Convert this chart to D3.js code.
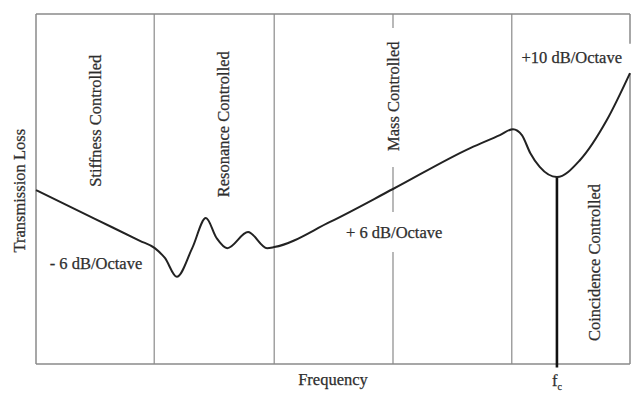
<!DOCTYPE html>
<html>
<head>
<meta charset="utf-8">
<script src="https://cdn.jsdelivr.net/npm/d3@7"></script>
<style>
  body { margin: 0; background: #fff; }
  text { font-family: "Liberation Serif", "Times New Roman", serif; fill: #2e2e2e; stroke: #2e2e2e; stroke-width: 0.25px; }
</style>
</head>
<body>
<div id="chart"></div>
<script>
// frequency (arbitrary 0-100 units) and transmission loss (0-100 units)
const freq = [0, 10, 17.5, 20, 21.7, 23.7, 26.3, 28.6, 30.4, 32.2, 35.7, 38.9, 40.1, 49.5, 60.1, 73.1, 78.1, 80.3, 81.8, 83.2, 84.8, 87.7, 91.6, 96.1, 100];
const loss = [49.7, 41.4, 35.2, 33.1, 30.3, 24.9, 33.1, 41.7, 36.0, 33.1, 37.7, 33.1, 33.4, 40.6, 50.0, 61.7, 65.4, 67.1, 65.4, 60.3, 56.3, 53.4, 58.3, 69.7, 83.1];

const dividers = [19.9, 40.1, 80.1];
const massDivider = 60.1;
const fc = 87.7;

const regionNames = ["Stiffness Controlled", "Resonance Controlled", "Mass Controlled", "Coincidence Controlled"];
const slopeLabels = ["- 6 dB/Octave", "+ 6 dB/Octave", "+10 dB/Octave"];

const width = 640, height = 395;
const svg = d3.select("#chart")
    .append("svg")
    .attr("width", width)
    .attr("height", height);

const x = d3.scaleLinear().domain([0, 100]).range([36, 630]);
const y = d3.scaleLinear().domain([0, 100]).range([364, 14]);

const grid = "#8a8a8a";

// frame: top, left, bottom, right (right side broken near the curve end)
svg.append("line").attr("x1", x(0)).attr("x2", x(100)).attr("y1", y(100)).attr("y2", y(100))
    .attr("stroke", grid).attr("stroke-width", 1.5);
svg.append("line").attr("x1", x(0)).attr("x2", x(0)).attr("y1", y(100)).attr("y2", y(0))
    .attr("stroke", grid).attr("stroke-width", 1.5);
svg.append("line").attr("x1", x(0)).attr("x2", x(100)).attr("y1", y(0)).attr("y2", y(0))
    .attr("stroke", grid).attr("stroke-width", 1.5);
svg.append("line").attr("x1", x(100)).attr("x2", x(100)).attr("y1", y(100)).attr("y2", y(91.5))
    .attr("stroke", grid).attr("stroke-width", 1.5);
svg.append("line").attr("x1", x(100)).attr("x2", x(100)).attr("y1", y(loss[loss.length - 1])).attr("y2", y(0))
    .attr("stroke", grid).attr("stroke-width", 1.5);

// region dividers
svg.selectAll(".divider")
    .data(dividers)
    .enter().append("line")
    .attr("x1", d => x(d)).attr("x2", d => x(d))
    .attr("y1", y(100)).attr("y2", y(0))
    .attr("stroke", grid).attr("stroke-width", 1.2);

// mass controlled divider is broken by its labels
const massSegments = [[100, 96], [56.3, 43.4], [32, 0]];
svg.selectAll(".mass")
    .data(massSegments)
    .enter().append("line")
    .attr("x1", x(massDivider)).attr("x2", x(massDivider))
    .attr("y1", d => y(d[0])).attr("y2", d => y(d[1]))
    .attr("stroke", grid).attr("stroke-width", 1.2);

// critical frequency marker
svg.append("line")
    .attr("x1", x(fc)).attr("x2", x(fc))
    .attr("y1", y(loss[freq.indexOf(fc)])).attr("y2", y(-1))
    .attr("stroke", "#111").attr("stroke-width", 2.6);

const line = d3.line()
    .x((d, i) => x(freq[i]))
    .y(d => y(d))
    .curve(d3.curveMonotoneX);

svg.append("path")
    .datum(loss)
    .attr("fill", "none")
    .attr("stroke", "#222")
    .attr("stroke-width", 2)
    .attr("d", line);

// rotated region labels
const regionPos = [[10, 69.5], [31.5, 68.5], [60.1, 76.5], [94, 29]];
svg.selectAll(".region")
    .data(regionNames)
    .enter().append("text")
    .attr("transform", (d, i) => `translate(${x(regionPos[i][0]) + 6},${y(regionPos[i][1])}) rotate(-90)`)
    .attr("text-anchor", "middle")
    .attr("font-size", "16.5px")
    .text(d => d);

// slope labels
const slopePos = [[10.1, 28.5], [60.3, 37.3], [90.2, 87.5]];
svg.selectAll(".slope")
    .data(slopeLabels)
    .enter().append("text")
    .attr("x", (d, i) => x(slopePos[i][0]))
    .attr("y", (d, i) => y(slopePos[i][1]) + 5)
    .attr("text-anchor", "middle")
    .attr("font-size", "16.5px")
    .text(d => d);

// axis titles
svg.append("text")
    .attr("transform", `translate(${x(0) - 11},${y(49.5)}) rotate(-90)`)
    .attr("text-anchor", "middle")
    .attr("font-size", "16.5px")
    .text("Transmission Loss");

svg.append("text")
    .attr("x", x(50))
    .attr("y", y(0) + 21)
    .attr("text-anchor", "middle")
    .attr("font-size", "16.5px")
    .text("Frequency");

const fcLabel = svg.append("text")
    .attr("x", x(fc))
    .attr("y", y(0) + 22)
    .attr("text-anchor", "middle")
    .attr("font-size", "16.5px");
fcLabel.append("tspan").text("f");
fcLabel.append("tspan").attr("font-size", "10px").attr("dy", 4).text("c");
</script>
</body>
</html>
